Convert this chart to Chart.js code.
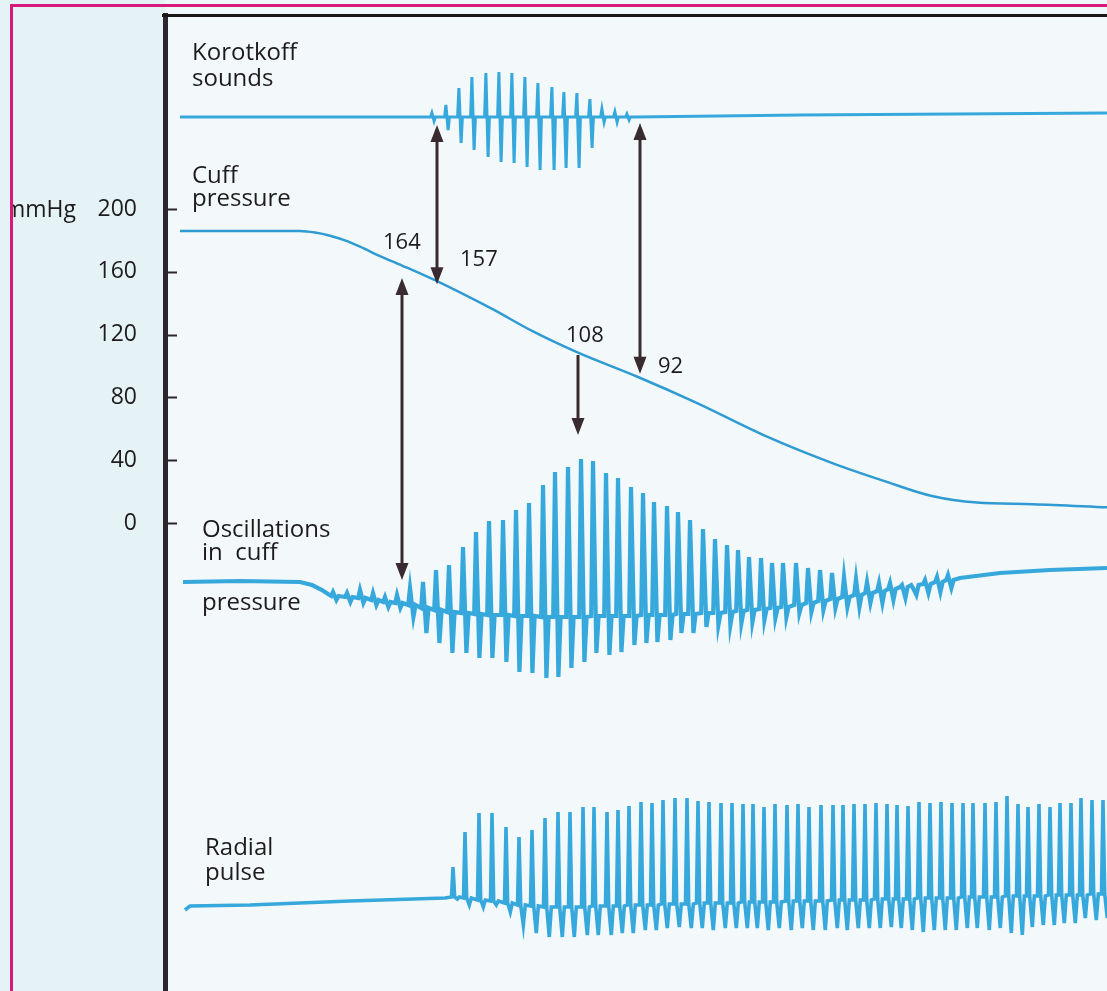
<!DOCTYPE html>
<html><head><meta charset="utf-8">
<script src="https://cdn.jsdelivr.net/npm/chart.js@4.4.1/dist/chart.umd.min.js"></script>
<style>html,body{margin:0;padding:0;background:#fff;}canvas{display:block;}</style>
</head><body>
<canvas id="c" width="1107" height="991"></canvas>
<script>
// ---------- DATA (time in arbitrary recording units) ----------
// Cuff pressure (mmHg)
const pT = [15,135,150,165,180,195,215,237,272,328,368,413,473,530,602,668,718,768,812,868,942];
const pV = [186,186,185,183,180,176,170,164,154,136,122,108.5,93,77,55,38,27,17,13,12,10];
const pTicks = [0,40,80,120,160,200];
const pMarks = [164,157,108,92];
const pMarkT = [237,272,413,475];

// Korotkoff sounds (relative amplitude)
const kT = [268,282,295,308,322,335,348,361,374,388,400,413,426,438,451,463];
const kUp = [4,12,29,40,44,45,44,40,34,30,25,24,18,8,5,3];
const kDown = [4,13,26,33,40,45,46,50,53,53,51,51,31,5,5,3];
const kBaseT = [15,262,470,635,942];
const kBaseV = [0,0,0,2,4];

// Oscillations in cuff pressure (relative amplitude)
const oLeadT = [18,75,135,147,157,163];
const oLeadV = [0,1,0,-3,-8,-12];
const oT = [168,182,195,208,220,232,245,258,271,284,298,311,324,338,351,364,378,390,403,416,428,441,453,466,478,489,502,513,525,538,550,562,573,584,596,607,618,631,643,655,667,679,691,702,714,725,737,748,760,772,783];
const oTop = [-10,-11,-8,-11,-15,-13,-6,0,12,17,35,50,61,62,72,79,97,110,115,123,121,109,104,95,89,80,76,70,62,53,43,37,32,25,24,19,19,19,14,12,9,5,3,0,-1,-1,-3,-6,2,5,7];
const oBot = [-18,-20,-21,-23,-25,-26,-35,-51,-61,-71,-71,-76,-76,-80,-90,-91,-96,-95,-86,-80,-71,-73,-70,-63,-61,-60,-58,-51,-51,-45,-43,-43,-41,-40,-38,-36,-35,-31,-30,-28,-26,-25,-25,-21,-21,-18,-16,-13,-11,-10,-6];
const oMid = [-14,-15,-16,-18,-20,-21,-23,-26,-28,-30,-31,-32,-33,-33,-34,-34,-35,-35,-35,-35,-34,-34,-34,-34,-33,-33,-33,-32,-32,-31,-31,-30,-29,-28,-27,-26,-25,-23,-21,-19,-17,-15,-13,-11,-9,-7,-5,-3,-2,0,2];
const oTailT = [795,835,885,942];
const oTailV = [4,9,12,14];

// Radial pulse (relative amplitude)
const rLeadT = [20,25,85,185,280];
const rLeadV = [-4,0,1,5,8];
const rT = [288,300,314,327,341,354,367,380,393,405,418,429,442,453,464,476,487,498,510,522,533,544,556,567,578,588,599,610,622,633,644,656,668,678,689,700,711,722,732,743,754,765,776,787,798,808,820,831,842,853,863,874,885,895,906,916,927,938];
const rTop = [39,74,93,93,79,69,76,88,94,94,99,99,94,96,100,104,103,106,108,108,105,104,103,103,102,102,99,102,101,102,99,101,101,101,102,102,103,102,101,100,104,103,104,103,103,103,103,104,110,102,99,102,99,103,103,108,106,106];
const rBot = [7,1,-1,1,-6,-19,-27,-31,-31,-31,-29,-29,-29,-27,-27,-24,-24,-22,-21,-22,-22,-24,-22,-22,-22,-22,-24,-22,-24,-22,-24,-24,-22,-24,-22,-22,-22,-21,-22,-24,-26,-24,-24,-24,-22,-22,-24,-22,-27,-29,-21,-19,-19,-17,-17,-12,-14,-12];
const rMid = [9,8,6,5,3,1,0,-1,-1,-1,-1,0,0,0,1,1,1,2,2,2,3,3,3,3,4,4,4,4,5,5,5,5,6,6,6,6,7,7,7,7,8,8,8,8,9,9,9,9,10,10,10,10,11,11,11,11,12,12];

// ---------- BUILD SERIES ----------
function pairs(T, V){ return T.map((t,i)=>({x:t,y:V[i]})); }
// shape: list of [time offset, 'm'|'t'|'b'] describing one beat's stroke order
function beats(T, top, bot, mid, shape){
  const out=[];
  T.forEach((t,i)=>{
    shape.forEach(([dt,w])=>{
      out.push({x:t+dt, y: w==='t'?top[i]:(w==='b'?bot[i]:mid[i])});
    });
  });
  return out;
}
const kPts = [];
kBaseT.forEach((t,i)=>{ if(t<kT[0]) kPts.push({x:t,y:kBaseV[i]}); });
kT.forEach((t,i)=>{
  kPts.push({x:t-2.4,y:0});
  kPts.push({x:t-1.1,y:kUp[i]});
  kPts.push({x:t+1.1,y:-kDown[i]});
  kPts.push({x:t+2.4,y:0});
});
kBaseT.forEach((t,i)=>{ if(t>kT[kT.length-1]) kPts.push({x:t,y:kBaseV[i]}); });

const oShape = [[-1.8,'m'],[0,'t'],[3.4,'b'],[5.6,'m']];
const rShape = [[-1.5,'m'],[0,'t'],[1.7,'m'],[4.3,'b'],[6.3,'m']];
const oPts = pairs(oLeadT,oLeadV).concat(beats(oT,oTop,oBot,oMid,oShape)).concat(pairs(oTailT,oTailV));
const rPts = pairs(rLeadT,rLeadV).concat(beats(rT,rTop,rBot,rMid,rShape));
const pPts = pairs(pT,pV);

// ---------- LAYOUT ----------
const AREA_TOP = 15, AREA_BOTTOM = 991, AXIS_X = 165;
function rangeFor(zeroPx, pxPerUnit){
  return {max:(zeroPx-AREA_TOP)/pxPerUnit, min:-(AREA_BOTTOM-zeroPx)/pxPerUnit};
}
const rP = rangeFor(523, 1.57);
const rK = rangeFor(117, 1);
const rO = rangeFor(582, 1);
const rR = rangeFor(906, 1);

const TRACE = '#37a8dc';
const INK = '#1d1b1c';
const ARROW = '#3a2b31';
const FONT = '"Open Sans", Lato, sans-serif';

const bgPlugin = {
  id:'bg',
  beforeDraw(chart){
    const {ctx, chartArea:a, width, height} = chart;
    ctx.save();
    ctx.fillStyle = '#ffffff'; ctx.fillRect(0,0,width,height);
    ctx.fillStyle = '#e5f2f6'; ctx.fillRect(0,0,a.left,height);
    ctx.fillStyle = '#eef7fa'; ctx.fillRect(a.left,0,width-a.left,a.top);
    ctx.fillStyle = '#f3f9fb'; ctx.fillRect(a.left,a.top,width-a.left,height-a.top);
    ctx.restore();
  }
};

function arrowHead(ctx, x, y, dir){
  const w=6.5, L=17;
  ctx.beginPath();
  ctx.moveTo(x,y);
  ctx.lineTo(x-w, y-dir*L);
  ctx.lineTo(x+w, y-dir*L);
  ctx.closePath();
  ctx.fill();
}

const annoPlugin = {
  id:'anno',
  afterDraw(chart){
    const {ctx, chartArea:a, scales} = chart;
    const X = scales.x, P = scales.yP, K = scales.yK, O = scales.yO;
    ctx.save();
    // top frame line
    ctx.fillStyle = '#1a1618';
    ctx.fillRect(a.left-3, a.top-1, chart.width-a.left+3, 3);
    // inward tick marks
    ctx.strokeStyle = '#2d2530'; ctx.lineWidth = 2;
    P.ticks.forEach(t=>{
      const y = Math.round(P.getPixelForValue(t.value))+0.5;
      ctx.beginPath(); ctx.moveTo(a.left+2,y); ctx.lineTo(a.left+12,y); ctx.stroke();
    });
    // arrows
    const arrows = [
      {t:272, from:[K,-8], to:[P,152], heads:[-1,1]},
      {t:475, from:[K,-6], to:[P,95], heads:[-1,1]},
      {t:237, from:[P,156], to:[O,2], heads:[-1,1]},
      {t:413, from:[P,107], to:[O,147], heads:[1]}
    ];
    ctx.strokeStyle = ARROW; ctx.fillStyle = ARROW; ctx.lineWidth = 3;
    arrows.forEach(ar=>{
      const x = X.getPixelForValue(ar.t);
      const y1 = ar.from[0].getPixelForValue(ar.from[1]);
      const y2 = ar.to[0].getPixelForValue(ar.to[1]);
      const hasTop = ar.heads.includes(-1), hasBot = ar.heads.includes(1);
      ctx.beginPath();
      ctx.moveTo(x, y1 + (hasTop?10:0));
      ctx.lineTo(x, y2 - (hasBot?10:0));
      ctx.stroke();
      if(hasTop) arrowHead(ctx, x, y1, -1);
      if(hasBot) arrowHead(ctx, x, y2, 1);
    });
    // pressure annotations (placed next to the marked points of the cuff curve)
    ctx.fillStyle = INK;
    ctx.font = '22px '+FONT;
    ctx.textBaseline = 'alphabetic'; ctx.textAlign = 'left';
    const off = [[-19,-17],[23,-11],[-12,-11],[18,-6]];
    pMarks.forEach((v,i)=>{
      const x = X.getPixelForValue(pMarkT[i]), y = P.getPixelForValue(v);
      ctx.fillText(String(v), x+off[i][0], y+off[i][1]);
    });
    // trace labels
    ctx.font = '24px '+FONT;
    const labels = [
      ['Korotkoff',192,60],['sounds',192,86],
      ['Cuff',192,183],['pressure',192,206],
      ['Oscillations',202,537],['in  cuff',202,560],['pressure',202,610],
      ['Radial',205,855],['pulse',205,880]
    ];
    labels.forEach(l=>ctx.fillText(l[0],l[1],l[2]));
    // unit label
    ctx.save();
    ctx.beginPath(); ctx.rect(13,0,a.left,chart.height); ctx.clip();
    ctx.font = '23px '+FONT;
    ctx.textAlign = 'right'; ctx.textBaseline = 'middle';
    ctx.fillText('mmHg', 76, P.getPixelForValue(200)+1);
    ctx.restore();
    // outer pink frame
    ctx.fillStyle = '#d6197a';
    ctx.fillRect(10,4,chart.width-10,3);
    ctx.fillRect(10,4,3,chart.height-4);
    ctx.restore();
  }
};

new Chart(document.getElementById('c').getContext('2d'), {
  type:'line',
  data:{datasets:[
    {label:'Korotkoff sounds', data:kPts, yAxisID:'yK', borderColor:TRACE, borderWidth:3, pointRadius:0, tension:0},
    {label:'Cuff pressure', data:pPts, yAxisID:'yP', borderColor:'#2f9bd2', borderWidth:2.5, pointRadius:0, cubicInterpolationMode:'monotone'},
    {label:'Oscillations in cuff pressure', data:oPts, yAxisID:'yO', borderColor:TRACE, borderWidth:4.2, pointRadius:0, tension:0},
    {label:'Radial pulse', data:rPts, yAxisID:'yR', borderColor:TRACE, borderWidth:3.6, pointRadius:0, tension:0}
  ]},
  options:{
    responsive:false, animation:false, devicePixelRatio:1, events:[],
    layout:{autoPadding:false, padding:{top:AREA_TOP,left:0,right:0,bottom:0}},
    plugins:{legend:{display:false}, tooltip:{enabled:false}},
    scales:{
      x:{type:'linear', min:0, max:942, display:false},
      yP:{type:'linear', position:'left', min:rP.min, max:rP.max,
        afterBuildTicks:s=>{ s.ticks = pTicks.map(v=>({value:v})); },
        afterFit:s=>{ s.width = AXIS_X; s.paddingTop = 0; s.paddingBottom = 0; },
        grid:{display:false, drawTicks:false},
        border:{display:true, color:'#2d2530', width:5},
        ticks:{font:{family:FONT, size:23}, color:INK, padding:28}
      },
      yK:{type:'linear', display:false, min:rK.min, max:rK.max},
      yO:{type:'linear', display:false, min:rO.min, max:rO.max},
      yR:{type:'linear', display:false, min:rR.min, max:rR.max}
    }
  },
  plugins:[bgPlugin, annoPlugin]
});
</script>
</body></html>
